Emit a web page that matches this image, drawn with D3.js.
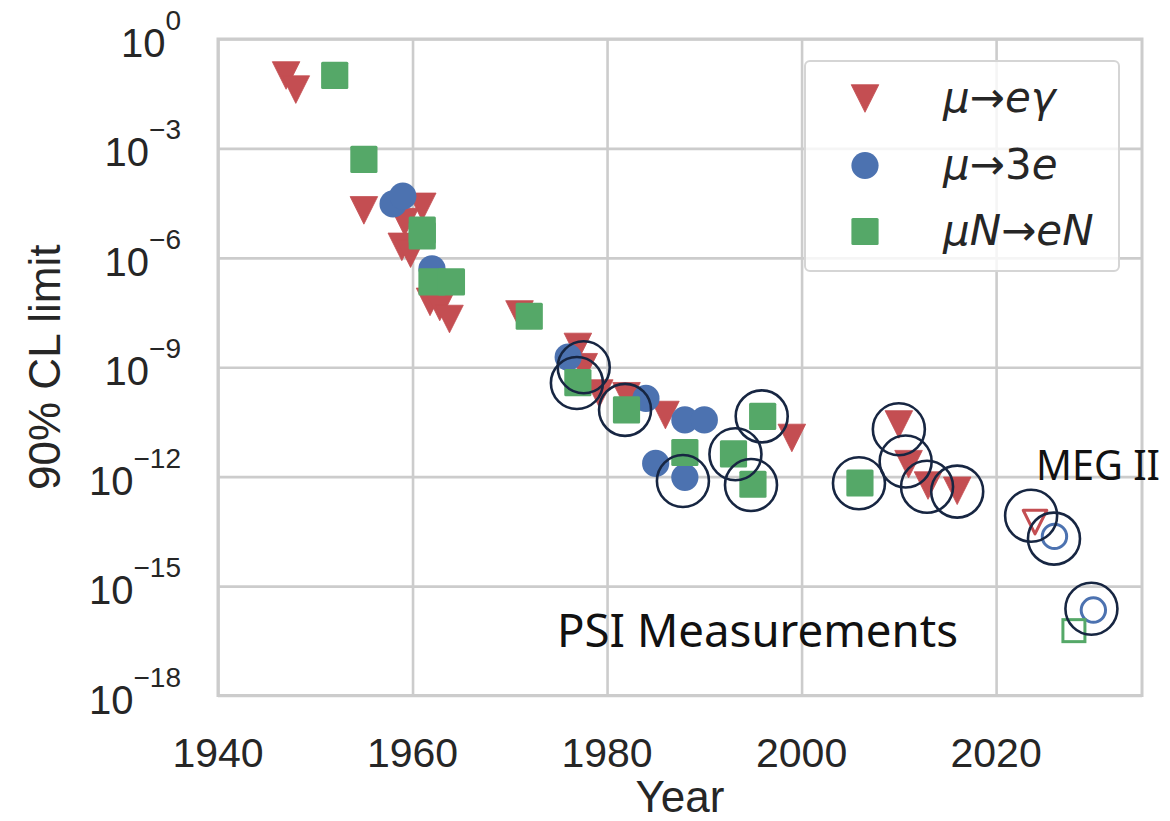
<!DOCTYPE html>
<html><head><meta charset="utf-8">
<script src="https://cdn.jsdelivr.net/npm/d3@7/dist/d3.min.js"></script>
<style>body{margin:0;background:#fff}svg{display:block}</style>
</head><body><svg id="chart" width="1170" height="821"></svg>
<script>
// ---- data ----
// mu -> e gamma (filled triangles)
const megYears  = [1947, 1948, 1955, 1961, 1959.2, 1958.9, 1959.8, 1961.8, 1962.8, 1963.8, 1971, 1977, 1977.6, 1979.2, 1982, 1986, 1999, 2010, 2011, 2013, 2016];
const megValues = [1.0e-1, 4.1e-2, 2.0e-5, 2.5e-5, 9.5e-6, 2.0e-6, 1.3e-6, 6.2e-8, 4.5e-8, 2.1e-8, 2.8e-8, 3.6e-9, 1.0e-9, 1.9e-10, 1.6e-10, 4.9e-11, 1.15e-11, 2.7e-11, 2.2e-12, 5.7e-13, 4.1e-13];
// mu -> 3e (filled circles)
const m3eYears  = [1958, 1959, 1962, 1976, 1984, 1985, 1988, 1990, 1988];
const m3eValues = [3.0e-5, 4.9e-5, 5.0e-7, 1.9e-9, 1.4e-10, 2.3e-12, 3.6e-11, 3.6e-11, 9.6e-13];
// mu N -> e N (filled squares)
const mecYears  = [1952, 1955, 1961, 1961, 1962, 1964, 1972, 1977, 1982, 1988, 1993, 1996, 1995, 2006];
const mecValues = [1.0e-1, 5.0e-4, 5.8e-6, 4.0e-6, 2.2e-7, 2.2e-7, 2.5e-8, 3.8e-10, 6.8e-11, 4.6e-12, 4.2e-12, 4.5e-11, 6.2e-13, 6.7e-13];
// projected (open markers)
const megFutureYears = [2024];
const megFutureValues = [5.7e-14];
const m3eFutureYears = [2026, 2030];
const m3eFutureValues = [2.3e-14, 2.2e-16];
const mecFutureYears = [2028];
const mecFutureValues = [6.0e-17];
// PSI measurement rings
const psiYears  = [1977.6, 1976.9, 1981.85, 1987.8, 1993.2, 1995.9, 1994.8, 2005.9, 2010.0, 2010.7, 2012.9, 2016.0, 2023.6, 2025.95, 2029.8];
const psiValues = [1.0e-9, 3.7e-10, 6.8e-11, 7.6e-13, 4.1e-12, 4.5e-11, 5.9e-13, 6.6e-13, 2.0e-11, 2.6e-12, 5.3e-13, 3.9e-13, 8.5e-14, 2.0e-14, 2.4e-16];
// axes ticks / labels
const xTicks = [1940, 1960, 1980, 2000, 2020];
const yExponents = [0, -3, -6, -9, -12, -15, -18];
const legendLabels = [
  [["μ","i"],["→","n"],["e","i"],["γ","i"]],
  [["μ","i"],["→","n"],["3","n"],["e","i"]],
  [["μ","i"],["N","i"],["→","n"],["e","i"],["N","i"]]
];
const colors = {meg: "#C44E52", m3e: "#4C72B0", mec: "#55A868", ring: "#172642", grid: "#cccccc"};

// ---- layout ----
const L = 218, R = 1142, T = 39, B = 695.5;
const svg = d3.select("#chart");
svg.append("rect").attr("width",1170).attr("height",821).attr("fill","#fff");

const x = d3.scaleLinear().domain([1940, 2035]).range([L, R]);
const y = d3.scaleLog().domain([1e-18, 1]).range([B, T]);

// grid via axes
const gx = svg.append("g").attr("transform", `translate(0,${B})`)
  .call(d3.axisBottom(x).tickValues(xTicks).tickSize(-(B - T)).tickFormat(""));
const gy = svg.append("g").attr("transform", `translate(${L},0)`)
  .call(d3.axisLeft(y).tickValues(yExponents.map(e => Math.pow(10, e))).tickSize(-(R - L)).tickFormat(""));
[gx, gy].forEach(g => {
  g.select(".domain").remove();
  g.selectAll(".tick line").attr("stroke", colors.grid).attr("stroke-width", 2.6);
});
// spines
svg.append("rect").attr("x", L).attr("y", T).attr("width", R - L).attr("height", B - T)
  .attr("fill", "none").attr("stroke", colors.grid).attr("stroke-width", 3);

// tick labels
const tickFont = "'Liberation Sans', Arial, sans-serif";
svg.append("g").selectAll("text").data(xTicks).join("text")
  .attr("x", d => x(d)).attr("y", B + 71)
  .attr("text-anchor", "middle").attr("font-family", tickFont).attr("font-size", 41).attr("fill", "#262626")
  .text(d => d);
const yl = svg.append("g").selectAll("text").data(yExponents).join("text")
  .attr("x", 181).attr("y", d => y(Math.pow(10, d)) + 18)
  .attr("text-anchor", "end").attr("font-family", tickFont).attr("font-size", 40).attr("fill", "#262626");
yl.append("tspan").text("10");
yl.append("tspan").attr("dy", -27).attr("font-size", 28).text(d => d === 0 ? "0" : "\u2212" + (-d));

// axis labels
svg.append("text").attr("x", (L + R) / 2).attr("y", 812).attr("text-anchor", "middle")
  .attr("font-family", tickFont).attr("font-size", 44).attr("fill", "#262626").text("Year");
svg.append("text").attr("transform", `translate(60,${(T + B) / 2}) rotate(-90)`).attr("text-anchor", "middle")
  .attr("font-family", tickFont).attr("font-size", 44).attr("fill", "#262626").text("90% CL limit");

// marker helpers
const TRI = 13.8, SQ = 13.6, CR = 13.6;
function triPath(cx, cy, h) { return `M${cx - h},${cy - h}L${cx + h},${cy - h}L${cx},${cy + h}Z`; }

const pts = (xs, vs) => xs.map((d, i) => ({year: d, value: vs[i]}));

// mu -> e gamma
svg.append("g").selectAll("path").data(pts(megYears, megValues)).join("path")
  .attr("d", d => triPath(x(d.year), y(d.value), TRI))
  .attr("fill", colors.meg).attr("stroke", colors.meg).attr("stroke-width", 0.8).attr("stroke-linejoin", "round");
// mu -> 3e
svg.append("g").selectAll("circle").data(pts(m3eYears, m3eValues)).join("circle")
  .attr("cx", d => x(d.year)).attr("cy", d => y(d.value)).attr("r", CR).attr("fill", colors.m3e);
// mu N -> e N
svg.append("g").selectAll("rect").data(pts(mecYears, mecValues)).join("rect")
  .attr("x", d => x(d.year) - SQ).attr("y", d => y(d.value) - SQ).attr("width", 2 * SQ).attr("height", 2 * SQ)
  .attr("rx", 1.5).attr("fill", colors.mec);

// open (future) markers
svg.append("g").selectAll("path").data(pts(megFutureYears, megFutureValues)).join("path")
  .attr("d", d => triPath(x(d.year), y(d.value), 11.8))
  .attr("fill", "none").attr("stroke", colors.meg).attr("stroke-width", 3).attr("stroke-linejoin", "round");
svg.append("g").selectAll("circle").data(pts(m3eFutureYears, m3eFutureValues)).join("circle")
  .attr("cx", d => x(d.year)).attr("cy", d => y(d.value)).attr("r", 12.2)
  .attr("fill", "none").attr("stroke", colors.m3e).attr("stroke-width", 3);
svg.append("g").selectAll("rect").data(pts(mecFutureYears, mecFutureValues)).join("rect")
  .attr("x", d => x(d.year) - 11).attr("y", d => y(d.value) - 11).attr("width", 22).attr("height", 22)
  .attr("fill", "none").attr("stroke", colors.mec).attr("stroke-width", 3);

// PSI rings
svg.append("g").selectAll("circle").data(pts(psiYears, psiValues)).join("circle")
  .attr("cx", d => x(d.year)).attr("cy", d => y(d.value)).attr("r", 26)
  .attr("fill", "none").attr("stroke", colors.ring).attr("stroke-width", 2.6);

// annotations
const annFont = "'Noto Sans', 'Open Sans', sans-serif";
svg.append("text").attr("x", 1036).attr("y", 480).attr("font-family", annFont).attr("font-size", 42)
  .attr("fill", "#111").attr("textLength", 124).attr("lengthAdjust", "spacingAndGlyphs").text("MEG II");
svg.append("text").attr("x", 557).attr("y", 647).attr("font-family", annFont).attr("font-size", 45)
  .attr("fill", "#111").attr("textLength", 401).attr("lengthAdjust", "spacingAndGlyphs").text("PSI Measurements");

// legend
const lg = svg.append("g");
lg.append("rect").attr("x", 805).attr("y", 61).attr("width", 314).attr("height", 210).attr("rx", 5)
  .attr("fill", "#fff").attr("fill-opacity", 0.8).attr("stroke", "#d5d5d5").attr("stroke-width", 2);
const legY = [98.5, 165.5, 231.5];
lg.append("path").attr("d", triPath(865, legY[0], TRI)).attr("fill", colors.meg).attr("stroke", colors.meg).attr("stroke-width", 0.8).attr("stroke-linejoin", "round");
lg.append("circle").attr("cx", 865).attr("cy", legY[1]).attr("r", CR).attr("fill", colors.m3e);
lg.append("rect").attr("x", 865 - SQ).attr("y", legY[2] - SQ).attr("width", 2 * SQ).attr("height", 2 * SQ).attr("rx", 1.5).attr("fill", colors.mec);
const lt = lg.selectAll("text.lab").data(legendLabels).join("text").attr("class", "lab")
  .attr("x", 943).attr("y", (d, i) => legY[i] + 13)
  .attr("font-family", "'DejaVu Sans', sans-serif").attr("font-size", 42).attr("fill", "#262626");
lt.selectAll("tspan").data(d => d).join("tspan")
  .attr("font-style", d => d[1] === "i" ? "italic" : "normal").text(d => d[0]);
</script></body></html>
